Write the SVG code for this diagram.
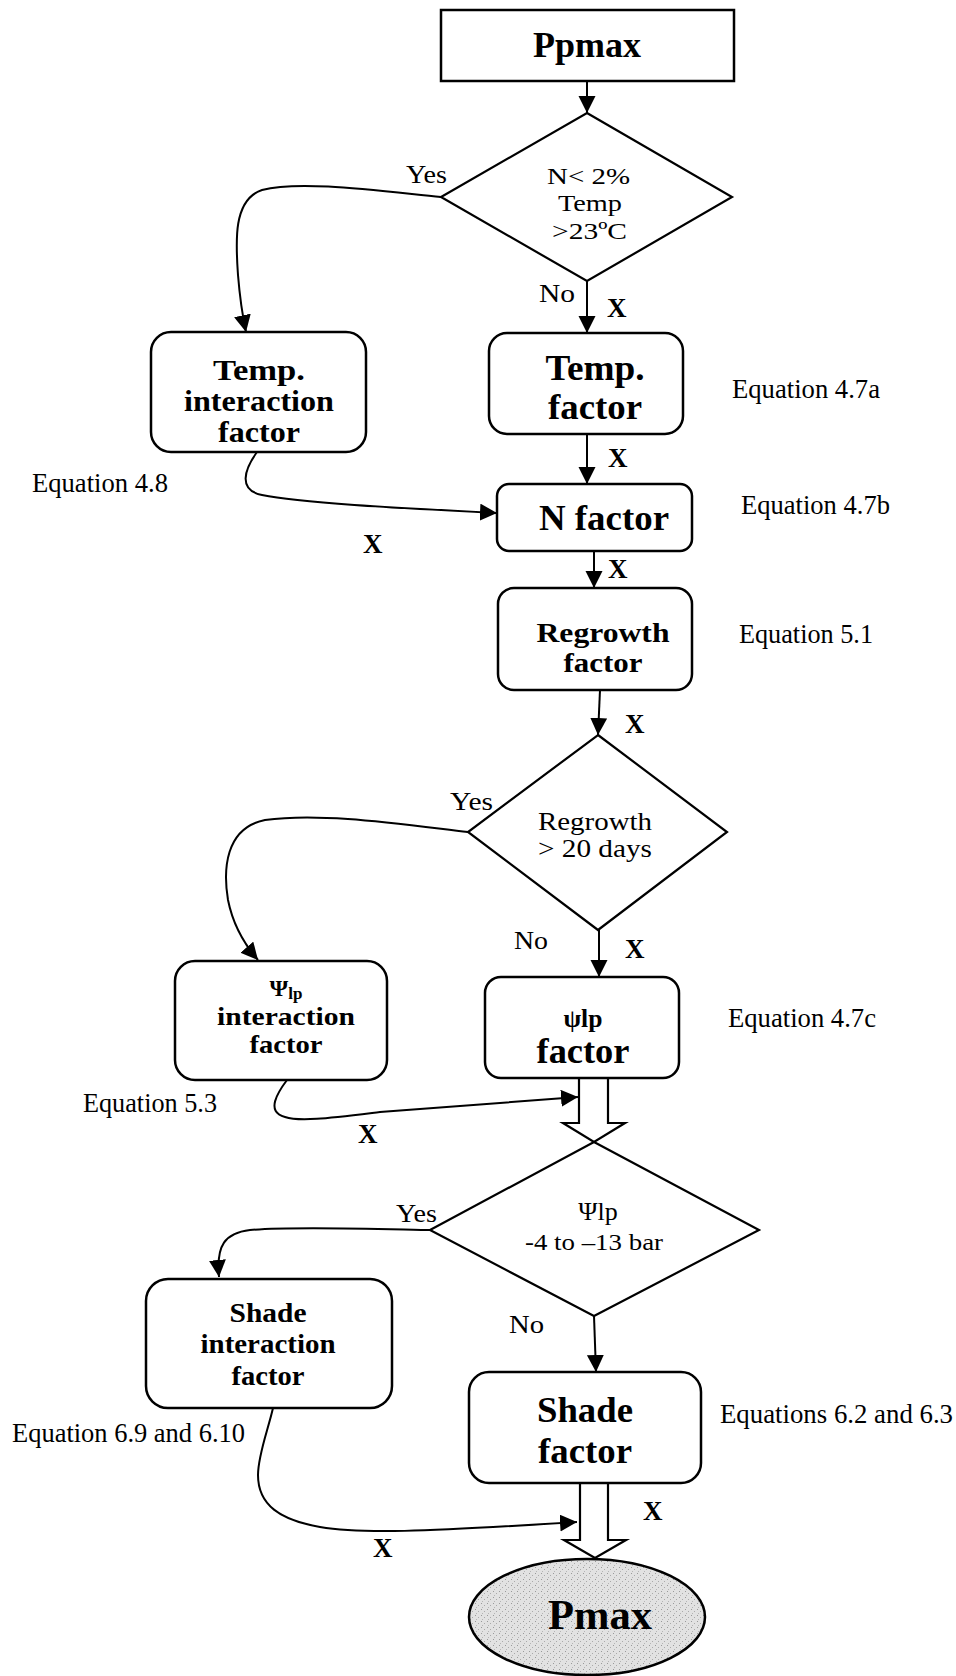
<svg xmlns="http://www.w3.org/2000/svg" width="956" height="1676" viewBox="0 0 956 1676">
<style>
.box{fill:#fff;stroke:#000;stroke-width:2.5}
.dia{fill:#fff;stroke:#000;stroke-width:2.2}
.ln{fill:none;stroke:#000;stroke-width:2}
.blk{fill:#fff;stroke:#000;stroke-width:2.2;stroke-linejoin:miter}
.b{font-family:"Liberation Serif","Times New Roman",serif;font-weight:bold;text-anchor:middle;fill:#000}
.r{font-family:"Liberation Serif","Times New Roman",serif;fill:#000}
.eq{font-family:"Liberation Serif","Times New Roman",serif;font-size:26.5px;fill:#000}
.x{font-family:"Liberation Serif","Times New Roman",serif;font-weight:bold;font-size:27px;fill:#000}
</style>
<defs>
<marker id="ah" markerUnits="userSpaceOnUse" markerWidth="18" markerHeight="18" refX="17" refY="8.5" orient="auto">
<path d="M0,0 L17,8.5 L0,17 z" fill="#000"/>
</marker>
<pattern id="stip" width="6" height="6" patternUnits="userSpaceOnUse">
<rect width="6" height="6" fill="#e2e2e2"/>
<rect x="1" y="1" width="1" height="1" fill="#9a9a9a"/>
<rect x="4" y="3" width="1" height="1" fill="#aaaaaa"/>
<rect x="2" y="5" width="1" height="1" fill="#b5b5b5"/>
</pattern>
</defs>

<g id="connectors">
<line class="ln" x1="587" y1="81" x2="587" y2="113" marker-end="url(#ah)"/>
<line class="ln" x1="587" y1="281" x2="587" y2="333" marker-end="url(#ah)"/>
<path class="ln" d="M441,197 C 380,191 300,180 262,190 C 232,200 236,245 238,275 C 240,300 243,318 246,332" marker-end="url(#ah)"/>
<line class="ln" x1="587" y1="434" x2="587" y2="484" marker-end="url(#ah)"/>
<path class="ln" d="M257,452 C 244,470 238,490 262,495 C 300,503 400,508 497,513" marker-end="url(#ah)"/>
<line class="ln" x1="594" y1="551" x2="594" y2="588" marker-end="url(#ah)"/>
<line class="ln" x1="600" y1="690" x2="598" y2="735" marker-end="url(#ah)"/>
<line class="ln" x1="599" y1="930" x2="599" y2="977" marker-end="url(#ah)"/>
<path class="ln" d="M468,832 C 400,824 320,812 265,820 C 225,828 223,870 228,900 C 233,925 245,945 258,960" marker-end="url(#ah)"/>
<path class="ln" d="M287,1080 C 278,1092 265,1112 285,1117 C 300,1122 330,1118 380,1112 L 578,1097" marker-end="url(#ah)"/>
<path class="blk" d="M579,1078 L579,1123 L563,1123 L594,1142 L625,1123 L608,1123 L608,1078"/>
<line class="ln" x1="594" y1="1316" x2="596" y2="1372" marker-end="url(#ah)"/>
<path class="ln" d="M433,1230 C 380,1229 290,1226 250,1230 C 225,1233 216,1245 219,1277" marker-end="url(#ah)"/>
<path class="ln" d="M273,1408 C 268,1430 258,1455 258,1475 C 258,1505 280,1520 320,1527 C 360,1534 420,1532 577,1522" marker-end="url(#ah)"/>
<path class="blk" d="M580,1483 L580,1540 L564,1540 L595,1558 L626,1540 L608,1540 L608,1483"/>
</g>

<g id="ppmax">
<rect class="box" x="441" y="10" width="293" height="71"/>
<text class="b" x="587" y="57" font-size="36">Ppmax</text>
</g>

<g id="decision1">
<polygon class="dia" points="587,113 732,197 587,281 441,197"/>
<text class="r" x="547" y="184" font-size="24" textLength="83" lengthAdjust="spacingAndGlyphs">N&lt; 2%</text>
<text class="r" x="558" y="211" font-size="24" textLength="64" lengthAdjust="spacingAndGlyphs">Temp</text>
<text class="r" x="552" y="239" font-size="24" textLength="75" lengthAdjust="spacingAndGlyphs">&gt;23ºC</text>
<text class="r" x="406" y="183" font-size="26" textLength="41" lengthAdjust="spacingAndGlyphs">Yes</text>
<text class="r" x="539" y="302" font-size="26" textLength="36" lengthAdjust="spacingAndGlyphs">No</text>
<text class="x" x="607" y="317">X</text>
</g>

<g id="temp-interaction">
<rect class="box" x="151" y="332" width="215" height="120" rx="20"/>
<text class="b" x="259" y="380" font-size="29" textLength="92" lengthAdjust="spacingAndGlyphs">Temp.</text>
<text class="b" x="259" y="411" font-size="29" textLength="150" lengthAdjust="spacingAndGlyphs">interaction</text>
<text class="b" x="259" y="442" font-size="29" textLength="82" lengthAdjust="spacingAndGlyphs">factor</text>
<text class="eq" x="32" y="492" textLength="136" lengthAdjust="spacingAndGlyphs">Equation 4.8</text>
<text class="x" x="363" y="553">X</text>
</g>

<g id="temp-factor">
<rect class="box" x="489" y="333" width="194" height="101" rx="18"/>
<text class="b" x="595" y="380" font-size="35" textLength="99" lengthAdjust="spacingAndGlyphs">Temp.</text>
<text class="b" x="595" y="419" font-size="35" textLength="94" lengthAdjust="spacingAndGlyphs">factor</text>
<text class="eq" x="732" y="398" textLength="148" lengthAdjust="spacingAndGlyphs">Equation 4.7a</text>
<text class="x" x="608" y="467">X</text>
</g>

<g id="n-factor">
<rect class="box" x="497" y="484" width="195" height="67" rx="12"/>
<text class="b" x="604" y="530" font-size="36" textLength="130" lengthAdjust="spacingAndGlyphs">N factor</text>
<text class="eq" x="741" y="514" textLength="149" lengthAdjust="spacingAndGlyphs">Equation 4.7b</text>
<text class="x" x="608" y="578">X</text>
</g>

<g id="regrowth-factor">
<rect class="box" x="498" y="588" width="194" height="102" rx="16"/>
<text class="b" x="603" y="642" font-size="28" textLength="133" lengthAdjust="spacingAndGlyphs">Regrowth</text>
<text class="b" x="603" y="672" font-size="28" textLength="79" lengthAdjust="spacingAndGlyphs">factor</text>
<text class="eq" x="739" y="643" textLength="134" lengthAdjust="spacingAndGlyphs">Equation 5.1</text>
<text class="x" x="625" y="733">X</text>
</g>

<g id="decision2">
<polygon class="dia" points="598,735 727,832 598,930 468,832"/>
<text class="r" x="538" y="830" font-size="25" textLength="114" lengthAdjust="spacingAndGlyphs">Regrowth</text>
<text class="r" x="538" y="857" font-size="25" textLength="114" lengthAdjust="spacingAndGlyphs">&gt; 20 days</text>
<text class="r" x="450" y="810" font-size="26" textLength="43" lengthAdjust="spacingAndGlyphs">Yes</text>
<text class="r" x="514" y="949" font-size="26" textLength="34" lengthAdjust="spacingAndGlyphs">No</text>
<text class="x" x="625" y="958">X</text>
</g>

<g id="psi-interaction">
<rect class="box" x="175" y="961" width="212" height="119" rx="20"/>
<text class="b" x="286" y="996" font-size="24">Ψ<tspan font-size="17" dy="3">lp</tspan></text>
<text class="b" x="286" y="1025" font-size="26" textLength="138" lengthAdjust="spacingAndGlyphs">interaction</text>
<text class="b" x="286" y="1053" font-size="26" textLength="73" lengthAdjust="spacingAndGlyphs">factor</text>
<text class="eq" x="83" y="1112" textLength="134" lengthAdjust="spacingAndGlyphs">Equation 5.3</text>
<text class="x" x="358" y="1143">X</text>
</g>

<g id="psi-factor">
<rect class="box" x="485" y="977" width="194" height="101" rx="16"/>
<text class="b" x="583" y="1027" font-size="25" textLength="39" lengthAdjust="spacingAndGlyphs">ψlp</text>
<text class="b" x="583" y="1063" font-size="35" textLength="93" lengthAdjust="spacingAndGlyphs">factor</text>
<text class="eq" x="728" y="1027" textLength="148" lengthAdjust="spacingAndGlyphs">Equation 4.7c</text>
</g>

<g id="decision3">
<polygon class="dia" points="594,1142 759,1230 594,1316 430,1230"/>
<text class="r" x="598" y="1220" font-size="26" text-anchor="middle">Ψlp</text>
<text class="r" x="525" y="1250" font-size="24" textLength="138" lengthAdjust="spacingAndGlyphs">-4 to –13 bar</text>
<text class="r" x="396" y="1222" font-size="26" textLength="41" lengthAdjust="spacingAndGlyphs">Yes</text>
<text class="r" x="509" y="1333" font-size="26" textLength="35" lengthAdjust="spacingAndGlyphs">No</text>
</g>

<g id="shade-interaction">
<rect class="box" x="146" y="1279" width="246" height="129" rx="22"/>
<text class="b" x="268" y="1322" font-size="28" textLength="77" lengthAdjust="spacingAndGlyphs">Shade</text>
<text class="b" x="268" y="1353" font-size="28" textLength="135" lengthAdjust="spacingAndGlyphs">interaction</text>
<text class="b" x="268" y="1385" font-size="28" textLength="73" lengthAdjust="spacingAndGlyphs">factor</text>
<text class="eq" x="12" y="1442" textLength="233" lengthAdjust="spacingAndGlyphs">Equation 6.9 and 6.10</text>
<text class="x" x="373" y="1557">X</text>
</g>

<g id="shade-factor">
<rect class="box" x="469" y="1372" width="232" height="111" rx="20"/>
<text class="b" x="585" y="1422" font-size="36" textLength="96" lengthAdjust="spacingAndGlyphs">Shade</text>
<text class="b" x="585" y="1463" font-size="36" textLength="94" lengthAdjust="spacingAndGlyphs">factor</text>
<text class="eq" x="720" y="1423" textLength="233" lengthAdjust="spacingAndGlyphs">Equations 6.2 and 6.3</text>
<text class="x" x="643" y="1520">X</text>
</g>

<g id="pmax">
<ellipse cx="587" cy="1617" rx="118" ry="58" fill="url(#stip)" stroke="#000" stroke-width="2.5"/>
<text class="b" x="600" y="1629" font-size="42" textLength="104" lengthAdjust="spacingAndGlyphs">Pmax</text>
</g>
</svg>
